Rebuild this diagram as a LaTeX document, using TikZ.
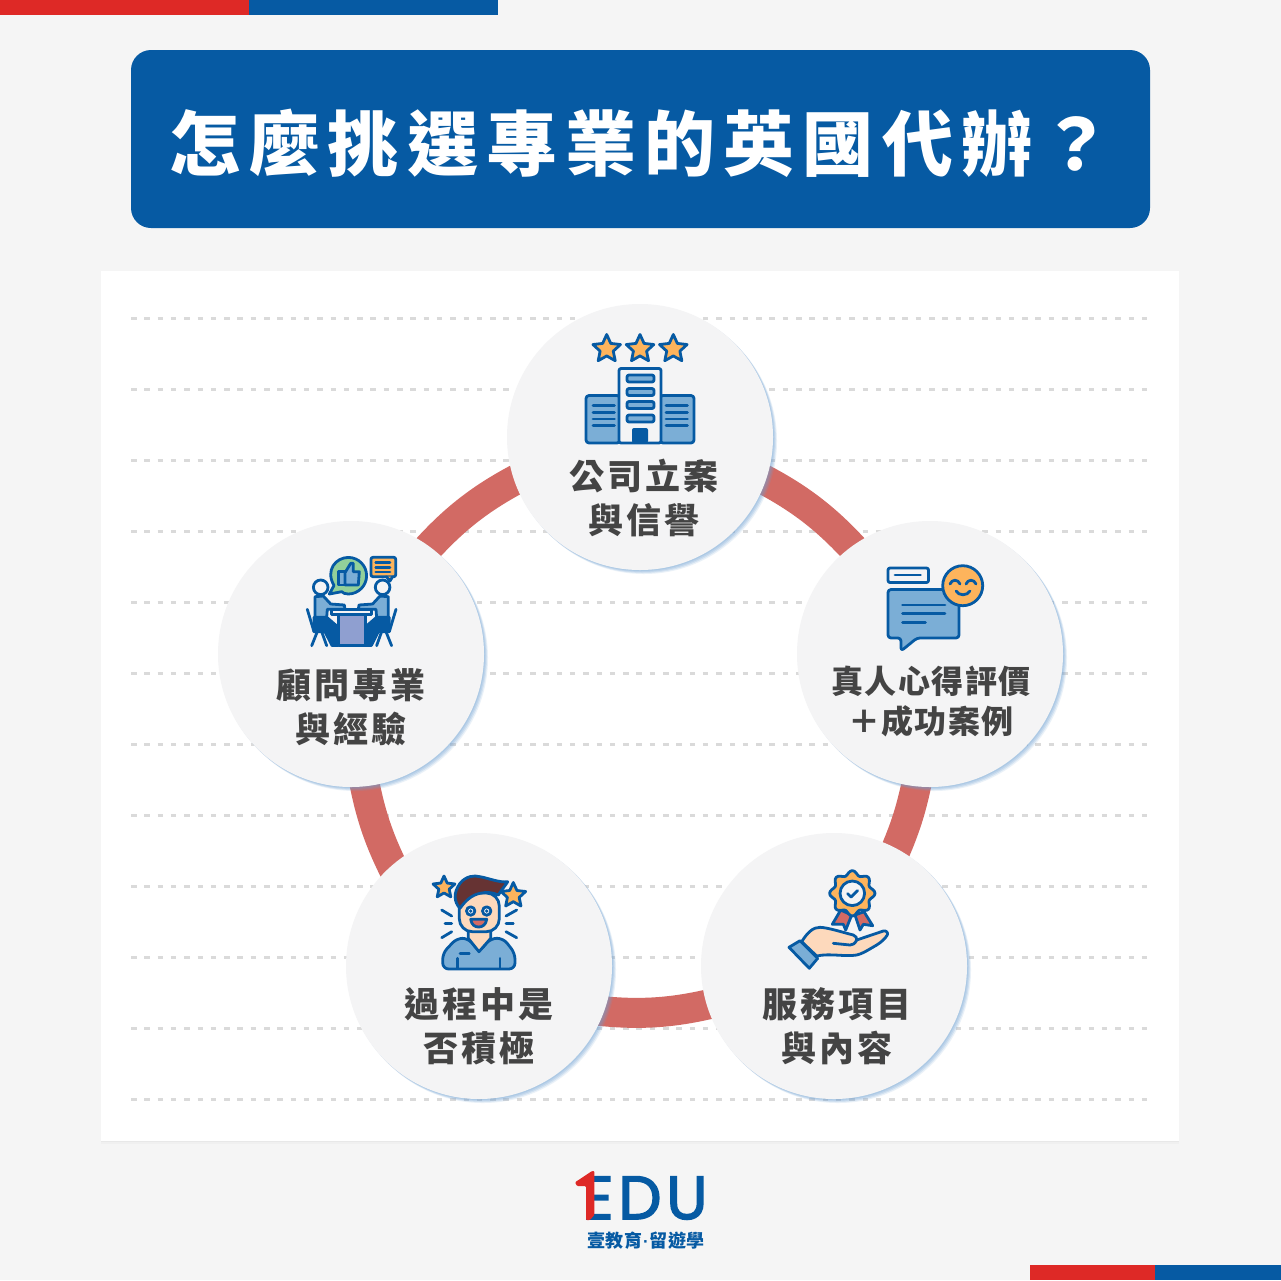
\documentclass[tikz,border=0pt]{standalone}
\usepackage{fontspec}
\usetikzlibrary{backgrounds, positioning, shadows, shapes.geometric}
\newfontfamily\titlefont[LetterSpace=11.5]{Noto Sans CJK TC}
\newfontfamily\bubblefont[LetterSpace=8.5]{Noto Sans CJK TC}
\newfontfamily\bubblenarrow[LetterSpace=4.5]{Noto Sans CJK TC}
\newfontfamily\logosmall[LetterSpace=3]{Noto Sans CJK TC}
\newfontfamily\logodot{Liberation Sans}
\newfontfamily\logofont[FakeBold=2.5, LetterSpace=8]{Poppins}
\definecolor{fondito}{RGB}{245,245,245}
\definecolor{azuledu}{RGB}{6,90,163}
\definecolor{rojoedu}{RGB}{222,41,38}
\definecolor{rojoring}{RGB}{210,106,100}
\definecolor{grisdot}{RGB}{218,218,218}
\definecolor{grisletra}{RGB}{68,68,68}
\definecolor{burbuja}{RGB}{244,244,245}
\definecolor{sombrita}{RGB}{110,160,210}
\definecolor{celestito}{RGB}{123,174,214}
\definecolor{naranjito}{RGB}{253,180,92}
\definecolor{pielcita}{RGB}{253,217,188}
\definecolor{verdecito}{RGB}{146,208,154}
\definecolor{lilita}{RGB}{143,159,208}
\definecolor{pelito}{RGB}{102,51,51}
\tikzset{
  >=stealth,
  bubble/.style={circle, fill=burbuja, minimum size=266pt, inner sep=0pt, outer sep=0pt,
    general shadow={fill=sombrita, shadow xshift=1pt, shadow yshift=-1pt, opacity=.2},
    general shadow={fill=sombrita, shadow xshift=2pt, shadow yshift=-2pt, opacity=.2},
    general shadow={fill=sombrita, shadow xshift=3pt, shadow yshift=-3pt, opacity=.2},
    general shadow={fill=sombrita, shadow xshift=4pt, shadow yshift=-4pt, opacity=.14}},
  bubbletext/.style={align=center, text=grisletra, inner sep=0pt, font=\bubblefont\bfseries\fontsize{35}{44}\selectfont},
  ringarc/.style={draw=rojoring, line width=30pt, looseness=.86, shorten <=-14pt, shorten >=-14pt},
  dotrow/.style={draw=grisdot, line width=3pt, dash pattern=on 5.5pt off 7.8pt},
  paperbox/.style={fill=white, minimum width=1078pt, minimum height=870pt, inner sep=0pt,
    general shadow={fill=black, shadow xshift=0pt, shadow yshift=-1pt, opacity=.03},
    general shadow={fill=black, shadow xshift=0pt, shadow yshift=-3pt, opacity=.02}},
  icon/.style={draw=azuledu, line width=2.8pt, line join=round, line cap=round},
  starmark/.style={star, star points=5, star point ratio=2.1, draw=azuledu, line width=2.8pt, line join=round, fill=naranjito, inner sep=0pt, outer sep=0pt}
}
\begin{document}
\begin{tikzpicture}[x=1pt, y=-1pt]
\useasboundingbox (0,0) rectangle (1281,1280);

\node[bubble] (topb) at (640,437) {};
\node[bubble] (rightb) at (930,654) {};
\node[bubble] (lowrightb) at (834,966) {};
\node[bubble] (lowleftb) at (479,966) {};
\node[bubble] (leftb) at (351,654) {};

\begin{scope}[on background layer]
  \fill[fondito] (0,0) rectangle (1281,1280);
  \fill[rojoedu] (0,0) rectangle (249,15);
  \fill[azuledu] (249,0) rectangle (498,15);
  \fill[rojoedu] (1030,1265) rectangle (1155,1280);
  \fill[azuledu] (1155,1265) rectangle (1281,1280);
  \node[paperbox] (paper) at (640,706) {};
  \foreach \rowy in {318,389,...,1099}
    \draw[dotrow] (131,\rowy) -- (1149,\rowy);
  \draw[ringarc] (topb.-19) to[bend left=11] (rightb.126);
  \draw[ringarc] (rightb.264) to[bend left=6.7] (lowrightb.62);
  \draw[ringarc] (lowrightb.197) to[bend left=10.5] (lowleftb.-20);
  \draw[ringarc] (lowleftb.131) to[bend left=8.5] (leftb.-84);
  \draw[ringarc] (leftb.54) to[bend left=11] (topb.199);
\end{scope}

\node[fill=azuledu, rounded corners=20pt, minimum width=1019pt, minimum height=178pt, inner sep=0pt] (titlebox) at (640.5,139) {};
\node[text=white, inner sep=0pt, font=\titlefont\bfseries\fontsize{71}{80}\selectfont] (titletext) at (640.5,143) {怎麼挑選專業的英國代辦？};

\node[bubbletext] (toptext) at (644,498) {公司立案\\與信譽};
\node[bubbletext, font=\bubblenarrow\bfseries\fontsize{32}{40}\selectfont] (righttext) at (931,701) {真人心得評價\\＋成功案例};
\node[bubbletext] (lowrighttext) at (837,1026) {服務項目\\與內容};
\node[bubbletext] (lowlefttext) at (479,1026) {過程中是\\否積極};
\node[bubbletext] (lefttext) at (351,707) {顧問專業\\與經驗};

% edificio
\node[starmark, minimum size=29pt] (star1) at (606.7,349) {};
\node[starmark, minimum size=29pt] (star2) at (640,349) {};
\node[starmark, minimum size=29pt] (star3) at (673.3,349) {};
\draw[icon, fill=celestito, rounded corners=3pt] (586,395.5) rectangle (620,443);
\draw[icon, fill=celestito, rounded corners=3pt] (660,395.5) rectangle (694,443);
\draw[icon, fill=burbuja, rounded corners=2pt] (619,368.5) rectangle (661,443);
\foreach \rowy in {378.5,392,405,418.5}
  \draw[icon, fill=celestito, rounded corners=2pt] (627,\rowy-3.5) rectangle (654,\rowy+3.5);
\fill[azuledu, rounded corners=2pt] (632,428) rectangle (648,443);
\foreach \rowy in {405.7,412.3,419,425.7} {
  \draw[icon] (593,\rowy) -- (614.5,\rowy);
  \draw[icon] (666,\rowy) -- (687.5,\rowy);
}

% mensajes
\draw[icon, fill=burbuja, rounded corners=2pt] (888,568) rectangle (928.5,582.5);
\draw[icon] (895,575) -- (920.5,575);
\draw[icon, fill=celestito, rounded corners=3pt] (888,589.5) -- (959,589.5) -- (959,638) -- (917,638) -- (901,651) -- (901,638) -- (888,638) -- cycle;
\draw[icon] (902.5,605) -- (945,605);
\draw[icon] (902.5,613.7) -- (945,613.7);
\draw[icon] (902.5,622.3) -- (925.5,622.3);
\draw[icon, fill=naranjito] (962.7,585.7) circle (20);
\draw[icon] (950,584) .. controls (952,579) and (958,579) .. (960,584);
\draw[icon] (966,584) .. controls (968,579) and (974,579) .. (976,584);
\draw[icon] (956,591) .. controls (959,596) and (967,596) .. (970,591);

% mano y medalla
\draw[icon, fill=rojoring] (840.7,910) -- (832.3,924.3) -- (843.3,924.3) -- (845.7,930) -- (851.7,915) -- cycle;
\draw[icon, fill=rojoring] (864,911.7) -- (872.7,925.7) -- (863.3,924.3) -- (860,930) -- (855,915) -- cycle;
\draw[icon, fill=naranjito] plot[smooth cycle, domain=0:355, samples=72] ({852.3+(20.5+2.2*cos(8*\x))*cos(\x)},{893.3+(20.5+2.2*cos(8*\x))*sin(\x)});
\draw[icon, fill=burbuja] (852.3,893.3) circle (12.3);
\draw[icon] (847.5,893.5) -- (851,897) -- (857.5,890.5);
\draw[icon, fill=pielcita] (801.7,941.7) .. controls (807,933) and (813,927) .. (820,927.3) .. controls (828,927.5) and (845,933) .. (853.3,935) .. controls (856,936) and (857,938) .. (856.7,940) -- (883.3,931) .. controls (886,930) and (888.5,933) .. (887.3,935) .. controls (885,939) and (880,943) .. (876.7,945) .. controls (868,950) and (862,954) .. (856.7,955) .. controls (845,957) and (830,953) .. (816.7,956) -- cycle;
\draw[icon] (856.7,940) .. controls (855,944) and (852,945) .. (850,945) -- (833.3,943.3);
\draw[icon, fill=celestito] (789,947.3) -- (800,940.7) -- (817.7,958.3) -- (809.3,968.3) -- cycle;

% persona
\draw[icon, fill=celestito, rounded corners=6pt] (442.7,969) -- (442.7,953.3) -- (456.7,938.3) -- (468.3,938.3) -- (479,951.7) -- (490.7,938.3) -- (503.3,938.3) -- (515,953.3) -- (515,969) -- cycle;
\draw[icon, fill=pielcita] (468.3,930) -- (468.3,938.3) -- (479,951.7) -- (490.7,938.3) -- (490.7,930);
\draw[icon, fill=pielcita, rounded corners=13pt] (459.3,893) rectangle (499.3,931.7);
\draw[icon, fill=pelito] (460,908.3) .. controls (454,902) and (453,893) .. (460,883.3) .. controls (466,876) and (474,875) .. (480,876.7) .. controls (488,878) and (500,883) .. (507.7,881.7) .. controls (505,886) and (503,888) .. (501.7,890) -- (498.3,895) .. controls (492,892) and (486,892) .. (480,893.3) .. controls (472,895) and (466,900) .. (460,908.3) -- cycle;
\draw[icon, fill=burbuja] (470.7,911) circle (4.2);
\draw[icon, fill=burbuja] (486.7,911) circle (4.2);
\fill[azuledu] (470.7,911) circle (1.8);
\fill[azuledu] (486.7,911) circle (1.8);
\draw[icon, fill=rojoring] (470.7,919.3) -- (486.7,919.3) .. controls (486,925) and (482,927) .. (478.7,927) .. controls (475,927) and (471.5,925) .. (470.7,919.3) -- cycle;
\node[starmark, minimum size=23pt] (star4) at (444,887.5) {};
\node[starmark, minimum size=26pt] (star5) at (513.3,895.5) {};
\draw[icon] (441.7,910) -- (451.7,916);
\draw[icon] (445,923.7) -- (451.7,923.7);
\draw[icon] (441.7,937.7) -- (451.7,931.7);
\draw[icon] (506,916) -- (516.7,910);
\draw[icon] (506,923.7) -- (513.3,923.7);
\draw[icon] (506,931.7) -- (516.7,937.7);
\draw[icon] (460,953.3) -- (469.3,953.3);
\draw[icon] (457.3,958.3) -- (457.3,968.3);
\draw[icon] (500,958.3) -- (500,968.3);

% reunion
\draw[icon, fill=verdecito] (334,585.5) .. controls (325,570) and (336,557.5) .. (348.3,557.4) .. controls (359,557.5) and (366.6,566) .. (366.6,575.7) .. controls (366.6,586) and (358,594) .. (348.3,594) .. controls (345,594) and (343,593) .. (341.7,591.7) -- (329.3,594) -- cycle;
\draw[icon, fill=celestito] (338.3,571.7) rectangle (345,585);
\draw[icon, fill=celestito] (345,572.7) -- (350.7,563.3) -- (353.3,563.3) -- (353.3,571.7) -- (359.3,571.7) -- (358.3,585) -- (345,585) -- cycle;
\draw[icon, fill=naranjito, rounded corners=2pt] (371,557.3) rectangle (395.7,576.7);
\draw[icon, fill=naranjito] (386.5,576.7) -- (390,581) -- (392.5,576.7);
\foreach \rowy in {562.3,567.3,572}
  \draw[icon] (375.7,\rowy) -- (390,\rowy);
\foreach \sidex/\sides in {0/1,703.3/-1} {
  \begin{scope}[shift={(\sidex,0)}, xscale=\sides]
    \draw[icon] (320.7,587.3) circle (7.3);
    \draw[icon, fill=azuledu] (314,617.3) -- (326.7,617.3) -- (338,627) -- (338,645.5) -- (332,645.5) -- (325,631.7) -- (314,631.7) -- cycle;
    \draw[icon, fill=celestito] (315,596.7) -- (323.3,596) -- (330.7,604) -- (344.3,605) -- (345,609.3) -- (327.3,609.3) -- (326.7,617.3) -- (315,617.3) -- cycle;
    \draw[icon] (307.3,609.3) -- (314,631.7);
    \draw[icon] (317.3,631.7) -- (311.7,645.7);
    \draw[icon] (321.7,631.7) -- (326.7,645.7);
  \end{scope}
}
\draw[icon, fill=lilita] (338.3,615) rectangle (365.7,645.5);
\draw[icon, fill=burbuja] (331.7,609.5) rectangle (371.7,614.5);

% logo
\node[text=azuledu, inner sep=0pt, anchor=west, font=\logofont\fontsize{61}{61}\selectfont] (logoname) at (582,1198) {EDU};
\fill[rojoedu, rounded corners=1pt] (575,1182.3) -- (592,1171) -- (594.3,1171) -- (594.3,1215) -- (590,1220) -- (586,1220) -- (586,1186) -- (577,1186) -- cycle;
\node[text=azuledu, inner sep=0pt, font=\logosmall\bfseries\fontsize{18}{18}\selectfont] (logotext) at (646,1241) {壹教育\kern1pt{\logodot\fontsize{17}{17}\selectfont·}\kern1pt留遊學};
\end{tikzpicture}
\end{document}
